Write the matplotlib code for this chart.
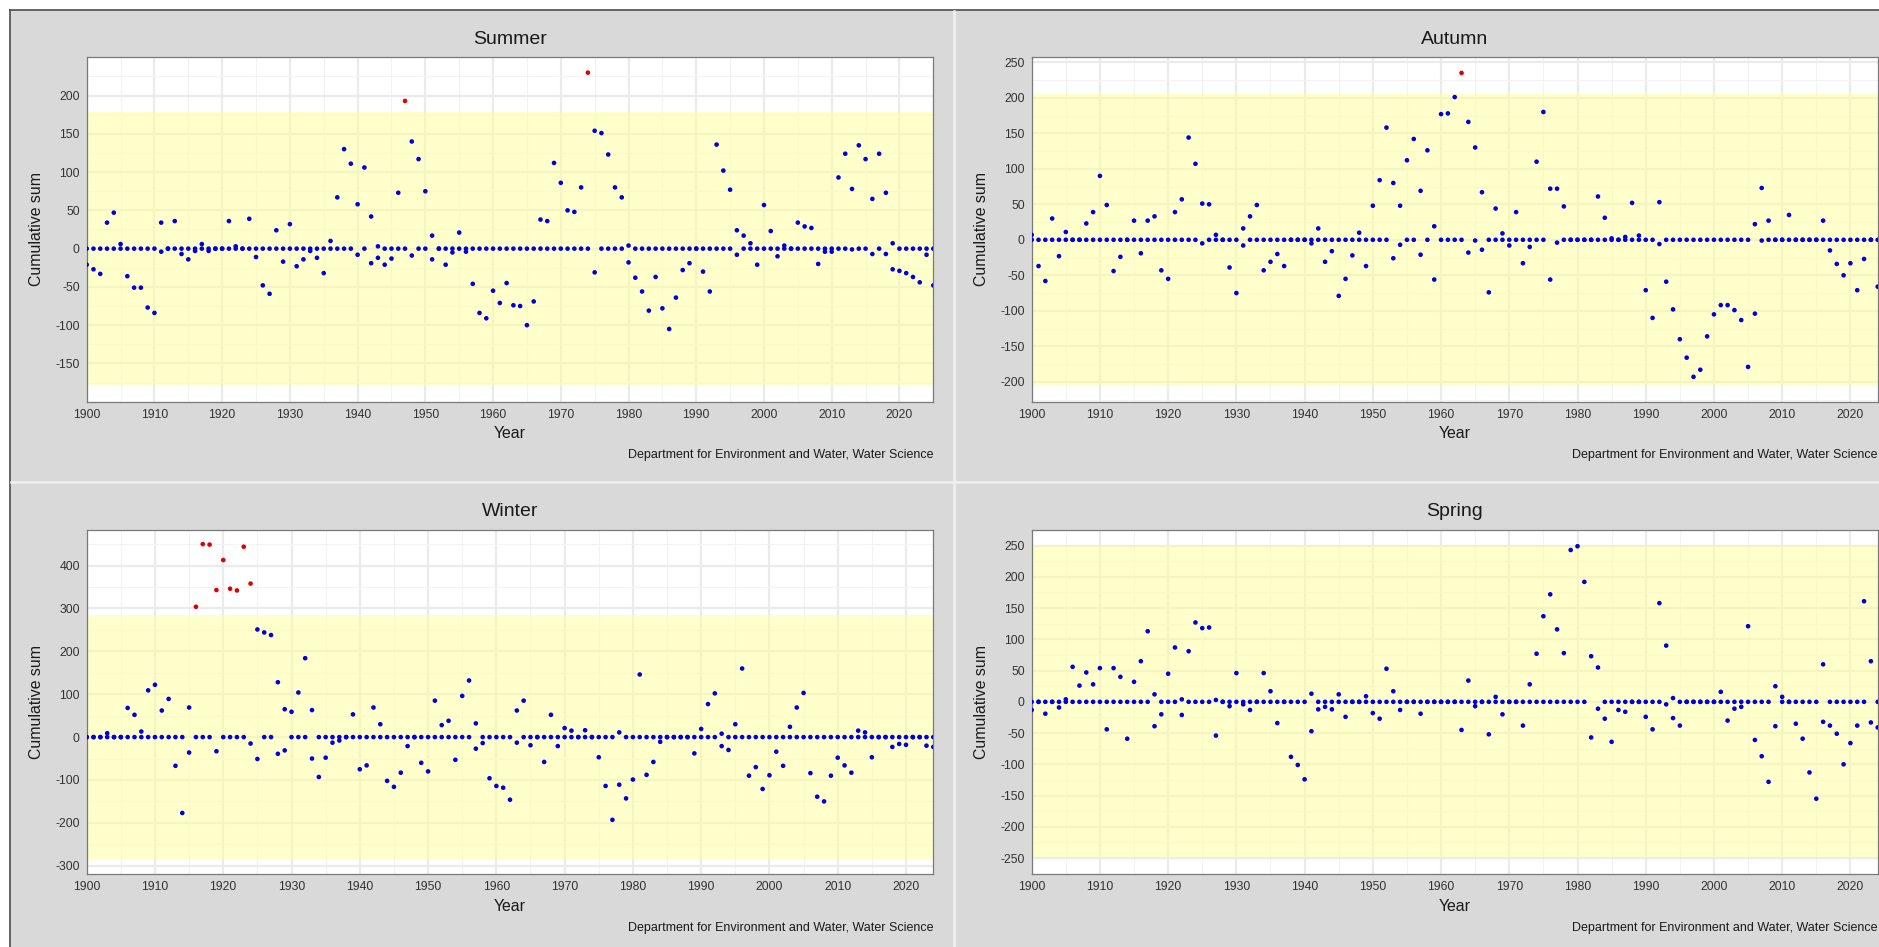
import matplotlib
matplotlib.use("Agg")
import matplotlib.pyplot as plt
from matplotlib.patches import Rectangle
from matplotlib.lines import Line2D
from matplotlib.ticker import MultipleLocator

plt.rcParams['font.family'] = ['Liberation Sans', 'DejaVu Sans']
plt.rcParams['axes.unicode_minus'] = False  # plain hyphen on negative ticks

# ---- data: cumulative sums (upper >= 0, lower <= 0) ----
summer_years = list(range(1900, 2026))
summer_upper = [
    0, 0, 0, 34, 47, 6, 0, 0, 0, 0,            # 1900
    0, 34, 0, 36, 0, 0, 0, 6, 0, 0,            # 1910
    0, 36, 3, 0, 39, 0, 0, 0, 24, 0,           # 1920
    32, 0, 0, 0, 0, 0, 10, 67, 130, 111,       # 1930
    58, 106, 42, 3, 0, 0, 73, 193, 140, 117,   # 1940
    75, 17, 0, 0, 0, 21, 0, 0, 0, 0,           # 1950
    0, 0, 0, 0, 0, 0, 0, 38, 36, 112,          # 1960
    86, 50, 48, 80, 230, 154, 151, 123, 80, 67,  # 1970
    4, 0, 0, 0, 0, 0, 0, 0, 0, 0,              # 1980
    0, 0, 0, 136, 102, 77, 24, 17, 7, 0,       # 1990
    57, 23, 0, 4, 0, 34, 29, 27, 0, 0,         # 2000
    0, 93, 124, 78, 135, 117, 65, 124, 73, 7,  # 2010
    0, 0, 0, 0, 0, 0,                          # 2020
]
summer_lower = [
    -21, -27, -33, 0, 0, 0, -36, -51, -51, -77,
    -84, -4, 0, 0, -7, -14, -3, 0, -3, 0,
    0, 0, 0, 0, 0, -11, -48, -59, 0, -17,
    0, -23, -14, -3, -12, -32, 0, 0, 0, 0,
    -8, 0, -19, -12, -21, -13, 0, 0, -9, 0,
    0, -14, 0, -21, -5, 0, -4, -46, -84, -91,
    -55, -71, -45, -74, -75, -100, -69, 0, 0, 0,
    0, 0, 0, 0, 0, -31, 0, 0, 0, 0,
    -18, -38, -56, -81, -37, -78, -105, -64, -28, -19,
    0, -30, -56, 0, 0, 0, -8, 0, 0, -21,
    0, 0, -10, 0, 0, 0, 0, 0, -20, -4,
    -4, 0, 0, -1, 0, 0, -7, 0, -7, -27,
    -29, -32, -37, -44, -8, -48,
]

autumn_years = list(range(1900, 2025))
autumn_upper = [
    7, 0, 0, 30, 0, 11, 0, 0, 23, 39,
    90, 49, 0, 0, 0, 27, 0, 27, 33, 0,
    0, 39, 57, 144, 107, 51, 50, 7, 0, 0,
    0, 16, 33, 49, 0, 0, 0, 0, 0, 0,
    0, 0, 16, 0, 0, 0, 0, 0, 10, 0,
    48, 84, 158, 80, 48, 112, 142, 69, 126, 19,
    177, 178, 201, 235, 166, 130, 67, 0, 44, 9,
    0, 39, 0, 0, 110, 180, 72, 72, 47, 0,
    0, 0, 0, 61, 31, 2, 0, 4, 52, 6,
    0, 0, 53, 0, 0, 0, 0, 0, 0, 0,
    0, 0, 0, 0, 0, 0, 22, 73, 27, 0,
    0, 35, 0, 0, 0, 0, 27, 0, 0, 0,
    0, 0, 0, 0, 0,
]
autumn_lower = [
    0, -37, -58, 0, -23, 0, 0, 0, 0, 0,
    0, 0, -44, -24, 0, 0, -19, 0, 0, -43,
    -55, 0, 0, 0, 0, -5, 0, 0, 0, -39,
    -75, -8, 0, 0, -43, -31, -20, -37, 0, 0,
    0, -5, 0, -31, -16, -79, -55, -22, 0, -37,
    0, 0, 0, -26, -7, 0, 0, -21, 0, -56,
    0, 0, 0, 0, -18, -1, -14, -74, 0, 0,
    -8, 0, -33, -10, 0, 0, -56, -4, 0, 0,
    0, 0, 0, 0, 0, 0, 0, 0, 0, 0,
    -71, -110, -6, -59, -98, -140, -166, -193, -183, -136,
    -105, -92, -92, -99, -113, -179, -104, -1, 0, 0,
    0, 0, 0, 0, 0, 0, 0, -15, -34, -50,
    -33, -71, -27, 0, -66,
]

winter_years = list(range(1900, 2025))
winter_upper = [
    0, 0, 0, 9, 0, 0, 68, 52, 13, 109,
    122, 62, 89, 0, 0, 69, 304, 450, 449, 343,
    413, 346, 342, 444, 358, 251, 244, 238, 128, 65,
    59, 104, 184, 63, 0, 0, 0, 0, 0, 53,
    0, 0, 69, 30, 0, 0, 0, 0, 0, 0,
    0, 85, 28, 38, 0, 96, 132, 32, 0, 0,
    0, 0, 0, 62, 85, 0, 0, 0, 52, 0,
    21, 15, 0, 16, 0, 0, 0, 0, 11, 0,
    0, 146, 0, 0, 0, 0, 0, 0, 0, 0,
    19, 77, 102, 8, 0, 30, 160, 0, 0, 0,
    0, 0, 0, 24, 69, 103, 0, 0, 0, 0,
    0, 0, 0, 15, 11, 0, 0, 0, 0, 0,
    0, 0, 0, 0, 0,
]
winter_lower = [
    0, 0, 0, 0, 0, 0, 0, 0, 0, 0,
    0, 0, 0, -67, -177, -36, 0, 0, 0, -33,
    0, 0, 0, 0, -15, -51, 0, 0, -39, -31,
    0, 0, 0, -50, -93, -48, -13, -8, 0, 0,
    -75, -66, 0, 0, -102, -116, -83, -21, 0, -60,
    -80, 0, 0, 0, -53, 0, 0, -27, -14, -96,
    -114, -118, -146, -13, 0, -19, 0, -58, 0, -21,
    0, 0, 0, 0, 0, -47, -114, -193, -111, -143,
    -99, 0, -88, -58, -11, 0, 0, 0, 0, -38,
    0, 0, 0, -21, -30, 0, 0, -90, -70, -121,
    -89, -34, -67, 0, 0, 0, -84, -139, -150, -90,
    -48, -66, -83, 0, 0, -47, 0, 0, -23, -16,
    -18, 0, 0, -20, -23,
]

spring_years = list(range(1900, 2025))
spring_upper = [
    0, 0, 0, 0, 0, 4, 56, 26, 47, 28,
    54, 0, 54, 40, 0, 32, 65, 113, 12, 0,
    45, 87, 4, 81, 127, 118, 119, 3, 0, 0,
    46, 0, 0, 0, 46, 17, 0, 0, 0, 0,
    0, 13, 0, 0, 0, 12, 0, 0, 0, 9,
    0, 0, 53, 17, 0, 0, 0, 0, 0, 0,
    0, 0, 0, 0, 34, 0, 0, 0, 8, 0,
    0, 0, 0, 28, 77, 137, 172, 116, 78, 243,
    249, 192, 73, 55, 0, 0, 0, 0, 0, 0,
    0, 0, 158, 90, 6, 0, 0, 0, 0, 0,
    0, 16, 0, 0, 0, 121, 0, 0, 0, 25,
    8, 0, 0, 0, 0, 0, 60, 0, 0, 0,
    0, 0, 161, 65, 0,
]
spring_lower = [
    -13, 0, -19, 0, -9, 0, 0, 0, 0, 0,
    0, -44, 0, 0, -59, 0, 0, 0, -39, -20,
    0, 0, -21, 0, 0, 0, 0, -54, 0, -7,
    0, -4, -13, 0, 0, 0, -34, 0, -88, -101,
    -124, -47, -12, -8, -12, 0, -24, 0, 0, 0,
    -18, -27, 0, 0, -13, 0, 0, -19, 0, 0,
    0, 0, 0, -45, 0, -7, 0, -52, 0, -20,
    0, 0, -38, 0, 0, 0, 0, 0, 0, 0,
    0, 0, -57, -11, -27, -64, -13, -16, 0, 0,
    -24, -44, 0, -4, -26, -38, 0, 0, 0, 0,
    0, 0, -30, -11, -8, 0, -61, -87, -128, -39,
    0, 0, -35, -59, -113, -155, -32, -38, -51, -100,
    -66, -38, 0, -33, -41,
]

# control limits (the yellow band) per season
summer_limit = 178
autumn_limit = 205
winter_limit = 285
spring_limit = 250

# ---- figure layout, in pixels of the 1879x947 image ----
W, H = 1879, 947
fig = plt.figure(figsize=(W / 100, H / 100), dpi=100, facecolor='white')


def px_rect(left, top, right, bottom):
    return [left / W, 1 - bottom / H, (right - left) / W, (bottom - top) / H]


# grey page with a dark frame on top/left, light separators between panels
fig.patches.append(Rectangle((10 / W, 0), 1, 1 - 10 / H, transform=fig.transFigure,
                             facecolor='#d9d9d9', edgecolor='none', zorder=-10))
fig.add_artist(Line2D([10 / W, 1], [1 - 10 / H] * 2, transform=fig.transFigure,
                      color='#4d4d4d', lw=1.2))
fig.add_artist(Line2D([10 / W] * 2, [0, 1 - 10 / H], transform=fig.transFigure,
                      color='#4d4d4d', lw=1.2))
fig.add_artist(Line2D([954 / W] * 2, [0, 1 - 11 / H], transform=fig.transFigure,
                      color='#f0f0f0', lw=1.8))
fig.add_artist(Line2D([11 / W, 1], [1 - 482 / H] * 2, transform=fig.transFigure,
                      color='#f0f0f0', lw=1.8))


def draw_panel(rect, title, years, upper, lower, limit, xmax, ylim, yticks, yminor, row_top):
    ax = fig.add_axes(px_rect(*rect))
    ax.set_facecolor('white')
    ax.set_axisbelow(True)

    # grid: thick major, thin minor
    ax.set_xticks(range(1900, 2021, 10))
    ax.xaxis.set_minor_locator(MultipleLocator(5))
    ax.set_yticks(yticks)
    ax.yaxis.set_minor_locator(MultipleLocator(yminor))
    ax.grid(which='major', color='#ebebeb', lw=1.6)
    ax.grid(which='minor', color='#f3f3f3', lw=0.8)

    # control band
    ax.axhspan(-limit, limit, color='#ffff99', alpha=0.5, lw=0, zorder=1)

    # points: both series, red when outside the band
    for series in (lower, upper):
        cols = ['#e00000' if abs(v) > limit else '#0000dd' for v in series]
        ax.scatter(years, series, s=11, c=cols, lw=0, zorder=3)

    ax.set_xlim(1900, xmax)
    ax.set_ylim(*ylim)
    ax.tick_params(which='both', length=0, labelsize=8.8, colors='#333333', pad=5)
    for sp in ax.spines.values():
        sp.set_color('#7a7a7a')
        sp.set_linewidth(0.9)

    ax.set_ylabel('Cumulative sum', fontsize=11.4, color='#1a1a1a', labelpad=8)

    cx = (rect[0] + rect[2]) / 2
    fig.text(cx / W, 1 - (row_top + 39) / H, title, ha='center', va='center',
             fontsize=14, color='#1a1a1a')
    fig.text(cx / W, 1 - (row_top + 433) / H, 'Year', ha='center', va='center',
             fontsize=11.4, color='#1a1a1a')
    fig.text(rect[2] / W, 1 - (row_top + 455) / H,
             'Department for Environment and Water, Water Science',
             ha='right', va='center', fontsize=9, color='#1a1a1a')
    return ax


draw_panel((86.7, 57.3, 933.3, 401.7), 'Summer', summer_years, summer_upper, summer_lower,
           summer_limit, 2025, (-200, 250), range(-150, 201, 50), 25, 0)
draw_panel((1031.7, 57.3, 1877.7, 401.7), 'Autumn', autumn_years, autumn_upper, autumn_lower,
           autumn_limit, 2024, (-228, 257), range(-200, 251, 50), 25, 0)
draw_panel((86.7, 530, 933.3, 874.3), 'Winter', winter_years, winter_upper, winter_lower,
           winter_limit, 2024, (-320, 483), range(-300, 401, 100), 50, 473)
draw_panel((1031.7, 530, 1877.7, 874.3), 'Spring', spring_years, spring_upper, spring_lower,
           spring_limit, 2024, (-276, 275), range(-250, 251, 50), 25, 473)

fig.savefig('out.png', dpi=100, facecolor=fig.get_facecolor())
